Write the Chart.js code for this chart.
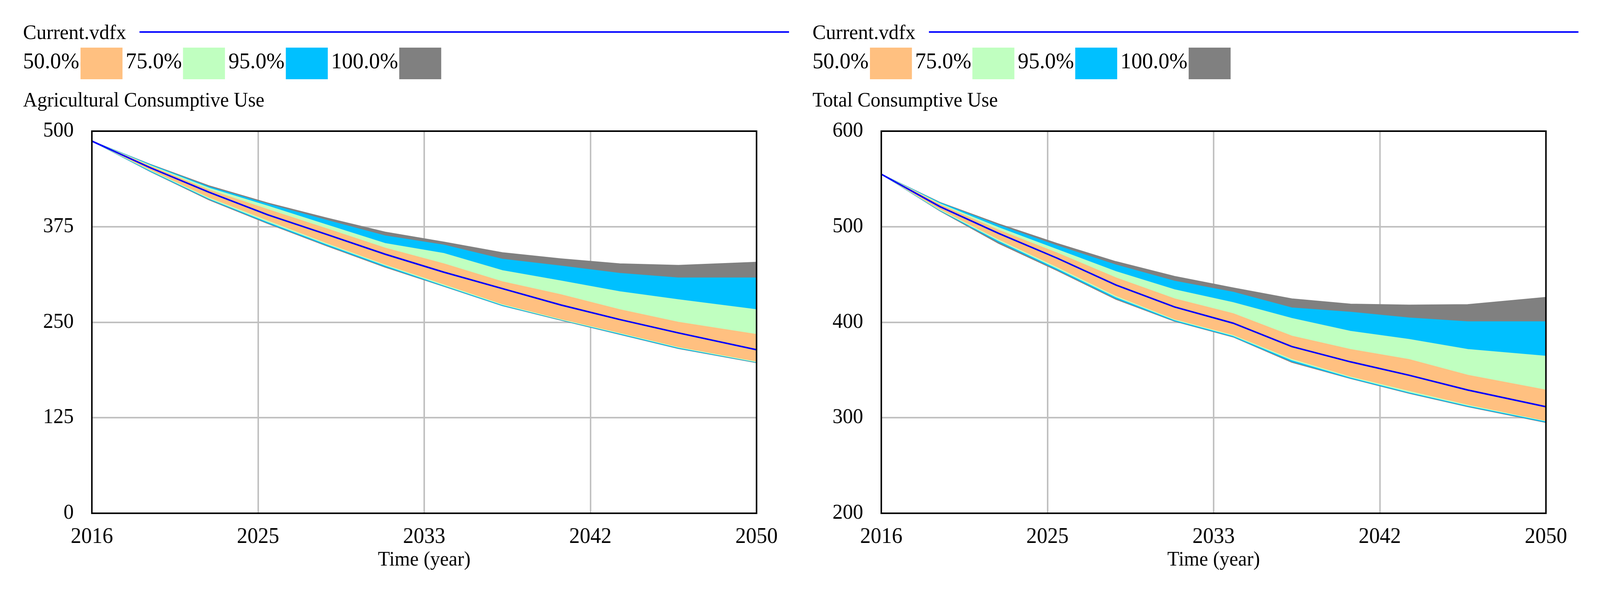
<!DOCTYPE html>
<html>
<head>
<meta charset="utf-8">
<script src="https://cdn.jsdelivr.net/npm/chart.js@4.4.1/dist/chart.umd.min.js"></script>
<style>
  html, body { margin: 0; padding: 0; background: #fff; overflow: hidden; }
  #page { width: 4232px; height: 1509px; position: absolute; left: 0; top: 0; transform-origin: 0 0; font-family: 'Liberation Serif', 'Times New Roman', serif; color: #000; }
  .panel { position: absolute; top: 0; width: 2116px; height: 1509px; }
  .panel canvas { position: absolute; left: 0; top: 0; }
  .cur { position: absolute; left: 61px; top: 56px; font-size: 53px; line-height: 53px; white-space: nowrap; }
  .curline { position: absolute; left: 369px; top: 80px; width: 1718px; height: 4px; background: #0000ff; }
  .legend { position: absolute; left: 61px; top: 122px; display: flex; align-items: flex-start; }
  .legend span { font-size: 57.5px; line-height: 57.5px; margin-top: 5px; white-space: nowrap; }
  .legend i { display: block; width: 111px; height: 81px; margin: 0 9px 0 3px; }
  .ttl { position: absolute; left: 61px; top: 230px; font-size: 52px; line-height: 52px; white-space: nowrap; }
</style>
</head>
<body>
<div id="page">
  <div class="panel" id="p1" style="left:0px">
    <canvas id="agri" width="2116" height="1509"></canvas>
  </div>
  <div class="panel" id="p2" style="left:2088px">
    <canvas id="total" width="2116" height="1509"></canvas>
  </div>
</div>

<script>
const years = [2016, 2019, 2022, 2025, 2028, 2031, 2034, 2037, 2040, 2043, 2046, 2050];

// x axis: Vensim puts ticks every 8.5 years and rounds the labels
const xTickValues = [2016, 2024.5, 2033, 2041.5, 2050];
const xTickLabels = ['2016', '2025', '2033', '2042', '2050'];

const agriTicks = [0, 125, 250, 375, 500];
const totalTicks = [200, 300, 400, 500, 600];

const runName = 'Current.vdfx';
const bandLabels = ['50.0%', '75.0%', '95.0%', '100.0%'];
const bandColors = ['#ffc080', '#c0ffc0', '#00c0ff', '#808080'];

// Agricultural Consumptive Use
const agriCurrent = [487, 452, 420, 390.5, 365, 339, 315.5, 294, 272.5, 253.5, 236, 214];
const agriP75  = [487, 454, 423, 397.5, 372.5, 347, 326.5, 303, 286, 266.5, 250, 234];
const agriP25  = [487, 449.5, 413.5, 383.5, 354, 326, 300, 274, 254.5, 236.5, 218, 199];
const agriP875 = [487, 455, 425.5, 402, 377.5, 353, 340, 317.5, 304, 290, 279.5, 266.5];
const agriP125 = [487, 448.5, 412, 381.5, 352.5, 324.5, 298.5, 273, 253.5, 235.5, 217, 198];
const agriP975 = [487, 456, 427, 404.5, 383.5, 363, 351, 332.5, 323.5, 314, 308, 308];
const agriP025 = [487, 447.5, 411, 380, 351, 323, 297.5, 272, 253, 234.5, 216, 197.5];
const agriMax  = [487, 456.5, 428.5, 406, 386.5, 368, 355, 341, 333, 326.5, 324.5, 328.5];
const agriMin  = [487, 447, 410, 379, 350, 322, 297, 271.5, 252.5, 234, 215.5, 197];

// Total Consumptive Use
const totalCurrent = [555, 521, 493, 467, 439, 416, 399, 374.5, 358.5, 344.5, 329, 311.5];
const totalP75  = [555, 523, 496.5, 472.5, 446.5, 424.5, 409, 385.5, 371.5, 361, 344.5, 329];
const totalP25  = [555, 518.5, 487, 458, 428, 403.5, 387, 362, 343.5, 328.5, 314, 297];
const totalP875 = [555, 524, 499, 476, 453, 434, 420.5, 404, 390.5, 382, 371.5, 364.5];
const totalP125 = [555, 517.5, 485.5, 456.5, 426.5, 402.5, 386, 360.5, 342.5, 327, 313, 296.5];
const totalP975 = [555, 525, 501.5, 480, 460, 443, 431.5, 415, 410.5, 404.5, 400.5, 400.5];
const totalP025 = [555, 517, 484, 455, 425, 401.5, 385, 359, 341.5, 326, 312, 295.5];
const totalMax  = [555, 525.5, 503, 482.5, 463.5, 448, 436, 424.5, 419, 418, 418.5, 426];
const totalMin  = [555, 516.5, 482.5, 454, 424, 401, 384.5, 358, 341, 325.5, 311.5, 295];

const FONT = "'Liberation Serif', 'Times New Roman', serif";

// the window may be smaller than 4232x1509, so fit the page into it
const page = document.getElementById('page');
const sx = window.innerWidth / 4232;
const sy = window.innerHeight / 1509;
page.style.transform = 'scale(' + sx + ',' + sy + ')';

function pts(arr) {
  return years.map((x, i) => ({ x: x, y: arr[i] }));
}

// upper bound fills down to the lower bound (next dataset)
function bandPair(upper, lower, color, order) {
  return [
    { data: pts(upper), fill: '+1', backgroundColor: color, borderColor: color, borderWidth: 2, pointRadius: 0, tension: 0, order: order },
    { data: pts(lower), fill: false, borderColor: color, borderWidth: 2, pointRadius: 0, tension: 0, order: order }
  ];
}

// box round the plot area
const framePlugin = {
  id: 'frame',
  afterDraw(chart) {
    const ctx = chart.ctx;
    const a = chart.chartArea;
    ctx.save();
    ctx.strokeStyle = '#000';
    ctx.lineWidth = 4;
    ctx.strokeRect(a.left, a.top, a.right - a.left, a.bottom - a.top);
    ctx.restore();
  }
};

function addHeader(panelId, title) {
  const panel = document.getElementById(panelId);

  const cur = document.createElement('div');
  cur.className = 'cur';
  cur.textContent = runName;
  panel.appendChild(cur);

  const line = document.createElement('div');
  line.className = 'curline';
  panel.appendChild(line);

  const legend = document.createElement('div');
  legend.className = 'legend';
  bandLabels.forEach((lab, i) => {
    const s = document.createElement('span');
    s.textContent = lab;
    legend.appendChild(s);
    const sw = document.createElement('i');
    sw.style.background = bandColors[i];
    legend.appendChild(sw);
  });
  panel.appendChild(legend);

  const t = document.createElement('div');
  t.className = 'ttl';
  t.textContent = title;
  panel.appendChild(t);
}

function makeChart(id, yTicks, s) {
  const ctx = document.getElementById(id).getContext('2d');
  return new Chart(ctx, {
    type: 'line',
    data: {
      datasets: [
        { data: pts(s.current), borderColor: '#0000ff', borderWidth: 4, pointRadius: 0, tension: 0, fill: false, order: 0 },
        ...bandPair(s.p75, s.p25, bandColors[0], 1),
        ...bandPair(s.p875, s.p125, bandColors[1], 2),
        ...bandPair(s.p975, s.p025, bandColors[2], 3),
        ...bandPair(s.max, s.min, bandColors[3], 4)
      ]
    },
    options: {
      responsive: false,
      devicePixelRatio: 1,
      animation: false,
      layout: { padding: { top: 336, right: 115, bottom: 0, left: 0 } },
      plugins: { legend: { display: false }, tooltip: { enabled: false } },
      scales: {
        x: {
          type: 'linear',
          min: 2016,
          max: 2050,
          z: 1,
          afterBuildTicks: axis => { axis.ticks = xTickValues.map(v => ({ value: v })); },
          afterFit: axis => { axis.height = 194; },
          ticks: {
            autoSkip: false,
            maxRotation: 0,
            padding: 28,
            color: '#000',
            font: { family: FONT, size: 56 },
            callback: (v, i) => xTickLabels[i]
          },
          grid: { color: '#c0c0c0', lineWidth: 4, drawTicks: false },
          border: { display: false },
          title: {
            display: true,
            text: 'Time (year)',
            color: '#000',
            font: { family: FONT, size: 52 },
            padding: { top: 0, bottom: 42 }
          }
        },
        y: {
          min: yTicks[0],
          max: yTicks[yTicks.length - 1],
          z: 1,
          afterBuildTicks: axis => { axis.ticks = yTicks.map(v => ({ value: v })); },
          afterFit: axis => { axis.width = 243; },
          ticks: {
            padding: 48,
            color: '#000',
            font: { family: FONT, size: 54 },
            callback: v => String(v)
          },
          grid: { color: '#c0c0c0', lineWidth: 4, drawTicks: false },
          border: { display: false }
        }
      }
    },
    plugins: [framePlugin]
  });
}

addHeader('p1', 'Agricultural Consumptive Use');
addHeader('p2', 'Total Consumptive Use');

makeChart('agri', agriTicks, {
  current: agriCurrent, p75: agriP75, p25: agriP25, p875: agriP875, p125: agriP125,
  p975: agriP975, p025: agriP025, max: agriMax, min: agriMin
});

makeChart('total', totalTicks, {
  current: totalCurrent, p75: totalP75, p25: totalP25, p875: totalP875, p125: totalP125,
  p975: totalP975, p025: totalP025, max: totalMax, min: totalMin
});
</script>
</body>
</html>
